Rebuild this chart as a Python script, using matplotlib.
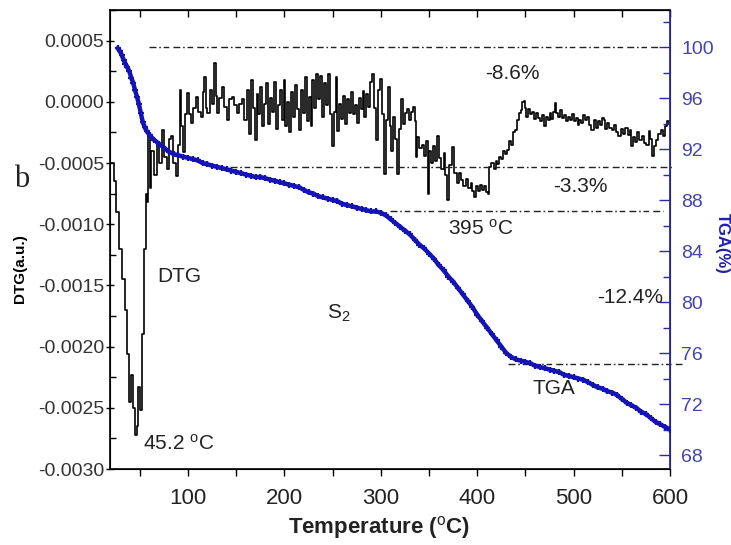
import numpy as np
import matplotlib
matplotlib.use("Agg")
import matplotlib.pyplot as plt
from matplotlib.ticker import MultipleLocator, FormatStrFormatter

plt.rcParams["font.family"] = ["Liberation Sans", "DejaVu Sans"]
plt.rcParams["axes.unicode_minus"] = False
plt.rcParams["mathtext.fontset"] = "custom"
plt.rcParams["mathtext.rm"] = "Liberation Sans"
plt.rcParams["mathtext.it"] = "Liberation Sans:italic"
plt.rcParams["mathtext.bf"] = "Liberation Sans:bold"

# ----------------------------------
# 1) Data
# ----------------------------------
# DTG curve: temperature (C) and DTG in units of 1e-4 a.u.
dtg_temp = [
    20, 23, 24, 27, 30, 33, 36, 38, 40, 42, 44, 46, 48, 49, 51, 53, 55, 57, 58, 59,
    61, 63, 66, 69, 71, 74, 77, 79, 81, 83, 86, 89, 91, 92, 94, 95, 98, 100, 102, 104,
    107, 109, 112, 114, 116, 118, 119, 121, 124, 126, 128, 130, 131, 134, 136, 139, 141, 144, 147, 149,
    152, 154, 157,
    160, 162, 164, 166, 168, 170, 172, 174, 176, 178, 180, 182, 184, 186, 188, 190, 192, 194, 196, 198,
    200, 202, 204, 206, 208, 210, 212, 214, 216, 218, 220, 222, 224, 226, 228, 230, 232, 234, 236, 238,
    240, 242, 244, 246, 248, 250, 252, 254, 256, 258, 260, 262, 264, 266, 268, 270, 272, 274, 276, 278,
    280, 282, 284, 286, 288, 290, 292, 294, 296, 298, 300,
    302, 304, 306, 308, 310, 312, 314, 316, 318, 320, 322, 324, 326, 328, 330, 332, 334, 336, 337, 339,
    341, 344, 346, 348, 349, 351, 353, 355, 357, 359, 361, 364, 366, 368, 370, 372, 375, 377, 380, 382,
    384, 387, 389, 392, 394, 396, 398, 400, 402, 404, 406, 408, 410, 412, 413, 416, 418, 420, 422, 424,
    426, 428, 430, 432, 434, 436, 438, 440, 442, 444, 446, 447, 449, 450,
    452, 454, 456, 458, 460, 462, 464, 466, 468, 470, 472, 474, 476, 478, 480, 481, 483, 485, 487, 489,
    491, 493, 495, 497, 499, 501, 503, 505, 507, 509, 511, 513, 515, 517, 520, 522, 524, 526, 528, 530,
    532, 534, 536, 538, 541, 543, 545, 548, 550, 552, 555, 557, 559, 561, 563, 565, 567, 569, 572, 574,
    577, 579, 580, 582, 584, 587, 589, 592, 594, 596, 598, 600,
]
dtg_val = [
    -5.0, -5.0, -6.5, -9.0, -12.0, -14.5, -17.0, -20.6, -24.5, -22.3, -25.0, -27.2, -26.5, -23.3, -25.2, -19.0, -12.0, -7.5, -8.2, -2.8,
    -7.0, -4.0, -6.0, -3.3, -5.0, -2.3, -4.5, -5.5, -3.0, -2.8, -5.0, -6.1, -3.5, 1.0, -2.0, -4.1, -1.0, 0.7, -1.0, -1.7,
    -0.5, 0.4, -0.8, -1.2, 0.8, 2.0, -0.5, -0.9, 1.0, -0.2, 3.2, 0.5, -0.9, 0.3, 1.2, -0.4, -1.5, 0.2, 0.4, -0.3,
    -0.9, -0.2, 0.2,
    -1.5, 1.0, -2.6, 1.8, -0.5, -3.1, 0.6, -1.0, 1.2, -2.0, -0.2, 1.5, -1.8, 0.3, -0.8, 1.6, -2.2, -0.3, 1.0, -1.5,
    1.8, -2.0, 0.0, -2.5, 0.8, -1.2, 1.4, -0.6, -2.3, 1.0, -0.9, 2.0, -1.6, 0.4, -2.0, 1.8, -0.5, 2.3, 0.2, 2.1,
    -1.2, 1.5, -0.3, 2.3, -1.0, -3.6, -0.8, 2.0, -2.4, -0.2, -1.4, 0.5, -1.8, 0.2, -0.9, 0.8, -1.0, -0.3, -1.7, 0.3,
    -0.6, 0.9, -1.2, 0.6, -0.4, 1.6, 2.3, -0.5, -3.1, 1.0, 1.9,
    -1.0, -5.9, -1.5, 1.2, -2.0, -4.0, -1.2, -3.0, -5.9, -2.2, 0.2, -1.8, -0.9, -0.6, -1.5, -0.8, -0.4, -1.6, -4.5, -2.9,
    -3.8, -3.5, -4.4, -3.2, -7.5, -4.0, -5.0, -3.6, -4.8, -2.8, -4.6, -5.5, -4.2, -6.0, -8.0, -5.2, -3.7, -5.8, -6.6, -5.8,
    -6.4, -6.9, -6.3, -7.0, -6.6, -7.3, -7.8, -6.9, -7.3, -6.8, -7.2, -6.9, -7.4, -7.5, -5.3, -5.0, -5.5, -4.8, -5.1, -4.5,
    -4.7, -4.0, -4.3, -3.9, -3.2, -3.5, -2.5, -2.3, -1.5, -0.9, -0.7, 0.0, 0.1, -0.5,
    -1.2, -0.6, -1.0, -0.8, -1.4, -0.9, -1.3, -1.6, -1.1, -2.0, -1.2, -1.5, -0.9, -1.4, -0.8, -0.1, -0.9, -1.2, -0.7, -1.3,
    -1.1, -1.6, -1.2, -1.5, -1.0, -1.6, -1.3, -1.9, -1.5, -1.7, -1.1, -1.5, -1.2, -1.9, -2.3, -1.5, -2.1, -1.6, -1.9, -1.3,
    -1.5, -2.2, -1.7, -2.1, -2.3, -1.9, -2.5, -2.8, -2.2, -2.6, -2.1, -2.7, -2.3, -3.6, -2.9, -3.3, -2.5, -3.1, -2.8, -3.4,
    -3.5, -2.4, -3.0, -4.4, -3.6, -3.1, -2.6, -2.3, -2.8, -2.0, -1.6, -1.8,
]

# TGA curve: temperature (C) and mass (%)
tga_temp = [
    27, 29, 31, 33, 35, 37, 39, 41, 43, 45, 47, 49, 51, 53, 55, 57, 60, 65, 70, 75,
    80, 85, 90, 95, 100, 105, 110, 115, 120, 125, 130, 135, 140, 145, 150, 155, 160, 165, 170, 175,
    180, 185, 190, 195, 200, 205, 210, 215, 220, 225, 230, 235, 240, 245, 250, 255, 260, 265, 270, 275,
    280, 285, 290, 295, 300, 305, 310, 315, 320, 325, 330, 335, 340, 345, 350, 355, 360, 365, 370, 375,
    380, 385, 390, 395, 400, 405, 410, 415, 420, 425, 430, 435, 440, 445, 450, 455, 460, 465, 470, 475,
    480, 485, 490, 495, 500, 505, 510, 515, 520, 525, 530, 535, 540, 545, 550, 555, 560, 565, 570, 575,
    580, 585, 590, 595, 600,
]
tga_val = [
    99.9, 99.7, 99.4, 99.0, 98.7, 98.4, 98.1, 97.6, 97.2, 96.6, 96.1, 95.5, 94.8, 94.1, 93.7, 93.4, 93.1, 92.7, 92.4, 92.1,
    91.8, 91.6, 91.5, 91.4, 91.3, 91.2, 91.1, 90.9, 90.8, 90.7, 90.6, 90.5, 90.4, 90.3, 90.2, 90.1, 90.0, 89.9, 89.8, 89.8,
    89.7, 89.6, 89.5, 89.4, 89.3, 89.2, 89.1, 89.0, 88.8, 88.6, 88.5, 88.3, 88.2, 88.1, 88.0, 87.9, 87.7, 87.6, 87.5, 87.4,
    87.3, 87.2, 87.1, 87.1, 87.0, 86.8, 86.5, 86.2, 85.9, 85.6, 85.3, 84.9, 84.5, 84.2, 83.8, 83.4, 82.9, 82.5, 82.0, 81.6,
    81.1, 80.6, 80.1, 79.6, 79.0, 78.5, 78.0, 77.5, 77.0, 76.5, 76.0, 75.7, 75.5, 75.4, 75.3, 75.2, 75.0, 74.9, 74.8, 74.7,
    74.6, 74.5, 74.3, 74.2, 74.1, 74.0, 73.9, 73.7, 73.5, 73.3, 73.2, 73.0, 72.9, 72.7, 72.4, 72.1, 71.9, 71.7, 71.4, 71.2,
    70.9, 70.6, 70.4, 70.2, 70.0,
]

# guide lines on the TGA scale: level (%), start and end temperature
guide_level = [100.0, 90.6, 87.1, 75.1]
guide_start = [59, 143, 309, 432]
guide_end = [590, 602, 593, 612]

dtg_ticks = [-0.0030, -0.0025, -0.0020, -0.0015, -0.0010, -0.0005, 0.0, 0.0005]
tga_ticks = [68, 72, 76, 80, 84, 88, 92, 96, 100]
temp_ticks = [100, 200, 300, 400, 500, 600]

# ----------------------------------
# 2) Figure
# ----------------------------------
blue = "#1414b4"
fig = plt.figure(figsize=(7.31, 5.45), dpi=100)
ax = fig.add_axes([0.1505, 0.1394, 0.7661, 0.8422])
ax2 = ax.twinx()

ax.plot(dtg_temp, np.array(dtg_val) * 1e-4, color="black", lw=1.2,
        drawstyle="steps-mid", zorder=3)
ax2.plot(tga_temp, tga_val, color=blue, lw=3.2, marker="+", ms=5, mew=1.6, zorder=3)

for lev, t0, t1 in zip(guide_level, guide_start, guide_end):
    ax2.plot([t0, t1], [lev, lev], color="#222222", lw=1.0,
             dashes=(5, 2, 1.2, 2, 4, 3), clip_on=False, zorder=2)

ax.set_xlim(19, 600)
ax.set_ylim(-0.0030, 0.00075)
ax2.set_ylim(66.9, 102.9)

# ticks
ax.set_xticks(temp_ticks)
ax.xaxis.set_minor_locator(MultipleLocator(50))
ax.set_yticks(dtg_ticks)
ax.yaxis.set_minor_locator(MultipleLocator(0.00025))
ax.yaxis.set_major_formatter(FormatStrFormatter("%.4f"))
ax.tick_params(axis="x", which="both", direction="out", length=5, width=1,
               labelsize=16, pad=9, labelcolor="#222222")
ax.tick_params(axis="y", which="major", direction="inout", length=6, width=1,
               labelsize=14, pad=1, labelcolor="#333333")
ax.tick_params(axis="y", which="minor", direction="in", length=4, width=1)

top = ax.secondary_xaxis("top")
top.set_xticks(temp_ticks)
top.xaxis.set_minor_locator(MultipleLocator(50))
top.tick_params(which="both", direction="in", length=5, width=1, labeltop=False)

ax2.set_yticks(tga_ticks)
ax2.yaxis.set_minor_locator(MultipleLocator(2))
ax2.tick_params(axis="y", which="major", direction="in", length=8, width=1,
                labelsize=14, pad=8, colors="#2a2a9a", labelcolor="#4444aa")
ax2.tick_params(axis="y", which="minor", direction="in", length=5, width=1, colors="#2a2a9a")
ax2.spines["right"].set_color("#2a2a9a")
ax2.spines["right"].set_linewidth(1.3)
for s in ["left", "bottom", "top"]:
    ax.spines[s].set_linewidth(1.2)

# labels
fig.text(0.518, 0.033, r"Temperature ($^{\mathrm{o}}$C)", fontsize=16,
         fontweight="bold", ha="center", va="center", color="#222222")
fig.text(0.027, 0.508, "DTG(a.u.)", fontsize=11, fontweight="bold",
         rotation=90, ha="center", va="center")
fig.text(0.988, 0.554, "TGA(%)", fontsize=12, fontweight="bold", color="#2020b0",
         rotation=-90, ha="center", va="center")
fig.text(0.030, 0.670, "b", fontsize=22, family=["Liberation Serif", "DejaVu Serif"],
         ha="center", va="center", color="#222222")

# annotations
txt = dict(fontsize=15, color="#222222", va="center")
ax.text(68, -0.00143, "DTG", ha="left", **txt)
ax.text(53, -0.00279, r"45.2 $^{\mathrm{o}}$C", ha="left", **txt)
ax.text(244, -0.00173, r"S$_{\mathrm{2}}$", ha="left", **txt)
ax.text(408, 0.000235, "-8.6%", ha="left", **txt)
ax.text(479, -0.00069, "-3.3%", ha="left", **txt)
ax.text(370, -0.00104, r"395 $^{\mathrm{o}}$C", ha="left", **txt)
ax.text(593, -0.0016, "-12.4%", ha="right", **txt)
ax.text(480, -0.00234, "TGA", ha="center", **txt)

plt.savefig("out.png", dpi=100)
